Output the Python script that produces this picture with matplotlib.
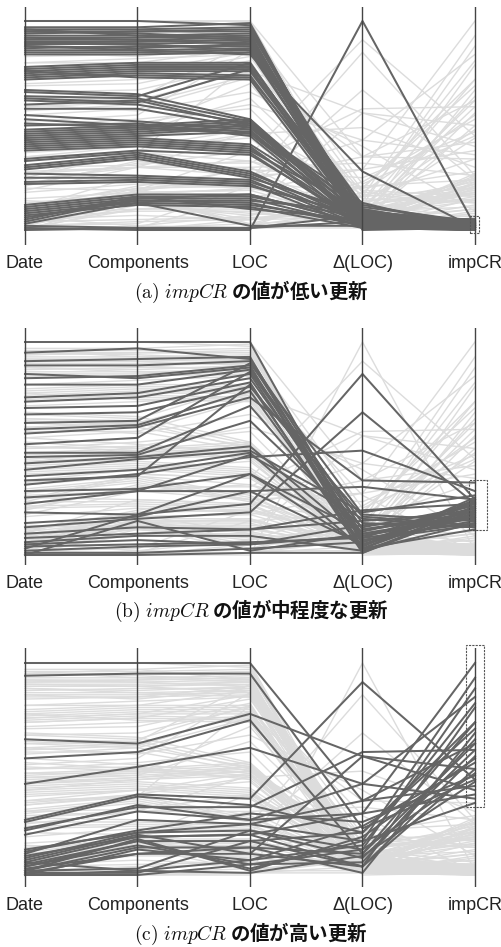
import matplotlib.pyplot as plt
from matplotlib.patches import Rectangle

plt.rcParams['mathtext.fontset'] = 'cm'

axis_names = ['Date', 'Components', 'LOC', 'Δ(LOC)', 'impCR']

# values are positions on each axis, 0 (bottom) .. 100 (top)
# updates with low impCR
low_date = [100, 97, 96, 95, 94, 93, 92, 91, 90, 89, 88, 87, 86, 85, 84, 95, 92, 90, 88, 96,
            78, 77, 76, 75, 74, 73, 72, 76,
            67, 64, 62, 60, 58, 66, 63,
            55, 53, 51, 50,
            48, 47, 46, 45, 44, 43, 42, 41, 40, 39, 38,
            34, 33, 31, 30, 29, 27, 25, 23, 22,
            12, 11, 10, 9, 8, 7, 5, 4, 3, 2, 1, 0, 6]
low_comp = [100, 97, 96, 95, 95, 93, 92, 91, 90, 89, 87, 88, 86, 85, 84, 94, 91, 89, 86, 93,
            80, 79, 78, 77, 76, 75, 74, 73,
            65, 63, 60, 62, 58, 64, 61,
            52, 50, 49, 51,
            50, 49, 48, 47, 46, 45, 44, 43, 42, 41, 40,
            38, 37, 36, 35, 34, 26, 25, 24, 23,
            17, 16, 15, 14, 13, 12, 16, 15, 13, 1, 0, 1, 14]
low_loc = [98, 99, 97, 96, 95, 94, 93, 92, 91, 90, 89, 88, 87, 86, 85, 92, 89, 86, 84, 91,
           80, 79, 78, 77, 76, 74, 73, 72,
           53, 52, 51, 50, 49, 80, 77,
           48, 47, 46, 45,
           53, 52, 51, 50, 49, 47, 41, 40, 39, 38, 37,
           36, 28, 27, 26, 25, 24, 23, 22, 21,
           17, 16, 15, 14, 12, 11, 10, 17, 2, 1, 0, 1, 13]
low_dloc = [3, 1, 5, 2, 8, 0, 4, 6, 2, 10, 3, 7, 1, 12, 5, 3, 9, 4, 28, 6,
            4, 8, 2, 11, 5, 3, 7, 1,
            6, 2, 9, 4, 13, 3, 5,
            2, 8, 4, 1,
            3, 6, 2, 10, 5, 3, 7, 1, 4, 9, 2,
            4, 4, 6, 3, 8, 2, 5, 1, 7,
            3, 6, 2, 9, 4, 1, 5, 3, 2, 7, 100, 4, 2]
low_impcr = [2, 1, 3, 0, 4, 1, 2, 5, 3, 1, 4, 2, 0, 3, 1, 5, 2, 4, 1, 3,
             2, 3, 1, 4, 0, 2, 5, 1,
             3, 2, 4, 1, 0, 2, 3,
             4, 1, 2, 3,
             2, 0, 4, 1, 3, 2, 5, 1, 2, 3, 0,
             3, 2, 1, 4, 2, 3, 1, 0, 4,
             2, 3, 1, 4, 2, 5, 1, 3, 0, 2, 2, 1, 3]

# updates with medium impCR
mid_date = [100, 95, 91, 89, 83, 80, 74, 72, 69, 66, 59, 57, 48, 46, 43, 40, 37, 33, 30, 24,
            20, 13, 8, 6, 4, 2, 1, 0, 0, 3, 62, 85, 52, 35, 27, 15, 10, 5]
mid_comp = [100, 97, 92, 89, 84, 80, 76, 74, 70, 67, 61, 60, 48, 47, 46, 45, 40, 38, 31, 30,
            19, 17, 10, 9, 5, 4, 1, 0, 16, 19, 63, 83, 55, 37, 30, 18, 13, 7]
mid_loc = [100, 92, 93, 91, 89, 87, 85, 83, 81, 79, 77, 74, 70, 63, 51, 49, 48, 46, 38, 30,
           24, 20, 12, 9, 6, 5, 3, 1, 2, 38, 90, 88, 86, 80, 47, 30, 12, 5]
mid_dloc = [5, 12, 3, 8, 2, 15, 6, 10, 1, 18, 4, 35, 9, 13, 7, 20, 3, 49, 11, 5,
            85, 67, 16, 2, 8, 14, 6, 1, 10, 4, 19, 7, 12, 3, 17, 32, 21, 9]
mid_impcr = [22, 18, 25, 15, 20, 13, 24, 17, 21, 14, 26, 34, 19, 23, 16, 28, 12, 30, 22, 18,
             26, 24, 20, 15, 25, 17, 21, 23, 19, 27, 16, 14, 20, 22, 13, 26, 24, 18]

# updates with high impCR
high_date = [100, 94, 64, 55, 43, 26, 22, 19, 10, 8, 6, 4, 2, 1, 0, 0, 12, 9, 5, 3,
             25, 21, 7, 2, 1, 11, 0, 4, 2, 6]
high_comp = [100, 95, 62, 58, 51, 38, 32, 30, 26, 20, 18, 16, 13, 10, 2, 0, 20, 18, 16, 10,
             37, 33, 19, 3, 1, 21, 12, 14, 17, 2]
high_loc = [100, 95, 76, 73, 60, 36, 32, 26, 24, 21, 19, 16, 13, 10, 7, 5, 24, 19, 3, 13,
            33, 26, 10, 21, 16, 29, 7, 5, 2, 1]
high_dloc = [35, 22, 56, 10, 43, 91, 58, 29, 16, 12, 4, 20, 1, 4, 23, 12, 35, 29, 16, 10,
             20, 43, 56, 8, 4, 25, 14, 6, 18, 9]
high_impcr = [62, 45, 50, 72, 84, 45, 59, 100, 93, 88, 79, 69, 67, 56, 53, 48, 42, 38, 34, 62,
              72, 36, 40, 59, 50, 47, 81, 64, 55, 44]

# updates outside every brush
other_date = [70, 50, 35, 18, 80, 28, 60, 14]
other_comp = [72, 53, 40, 22, 82, 30, 57, 12]
other_loc = [75, 58, 44, 20, 84, 33, 66, 8]
other_dloc = [2, 5, 3, 9, 1, 12, 40, 4]
other_impcr = [8, 10, 7, 11, 9, 6, 9, 10]

groups = {
    'low': [low_date, low_comp, low_loc, low_dloc, low_impcr],
    'mid': [mid_date, mid_comp, mid_loc, mid_dloc, mid_impcr],
    'high': [high_date, high_comp, high_loc, high_dloc, high_impcr],
    'other': [other_date, other_comp, other_loc, other_dloc, other_impcr],
}

captions = [r'$\mathrm{(a)}\ impCR$ の値が低い更新',
            r'$\mathrm{(b)}\ impCR$ の値が中程度な更新',
            r'$\mathrm{(c)}\ impCR$ の値が高い更新']
highlight = ['low', 'mid', 'high']
brushes = [(-1.5, 6.5), (11.7, 35.2), (32, 108.5)]

W, H = 502, 947
axis_px = [25, 138, 250, 363, 475]
# top, bottom of axis lines, pixel of value 100 and 0, label row, caption row
panels = [(7, 245, 21, 230, 264, 292),
          (328, 565, 342, 555, 583, 611),
          (648, 887, 663, 875, 905, 934)]

dark = '#656565'
light = '#dcdcdc'

fig = plt.figure(figsize=(W / 100, H / 100), dpi=100)

for k, (top, bot, y100, y0, lab_y, cap_y) in enumerate(panels):
    ax = fig.add_axes([0, 1 - bot / H, 1, (bot - top) / H])
    s = (y0 - y100) / 100
    ax.set_ylim(-(bot - y0) / s, 100 + (y100 - top) / s)
    ax.set_xlim(-axis_px[0] / 112.5, (W - axis_px[0]) / 112.5)
    ax.axis('off')

    for name, cols in groups.items():
        if name == highlight[k]:
            continue
        for row in zip(*cols):
            ax.plot(range(5), row, color=light, lw=1.0, zorder=1)
    for row in zip(*groups[highlight[k]]):
        ax.plot(range(5), row, color=dark, lw=1.45, zorder=2)

    for i in range(5):
        ax.axvline(i, color='#444444', lw=1.0, zorder=3)

    lo, hi = brushes[k]
    bw = 0.16 if k > 0 else 0.08
    ax.add_patch(Rectangle((4 - bw / 2 + (0.03 if k == 1 else 0), lo), bw, hi - lo,
                           fill=False, ls=(0, (2, 1)), lw=0.8, ec='#555555', zorder=4,
                           clip_on=False))

    for i, name in enumerate(axis_names):
        fig.text(axis_px[i] / W, 1 - lab_y / H, name, ha='center', va='center',
                 fontsize=13, family='Liberation Sans', color='#222222')
    fig.text(0.5, 1 - cap_y / H, captions[k], ha='center', va='center', fontsize=14,
             family=['Noto Sans CJK JP', 'DejaVu Sans'], weight='bold', color='#111111')

fig.savefig('out.png', dpi=100)
